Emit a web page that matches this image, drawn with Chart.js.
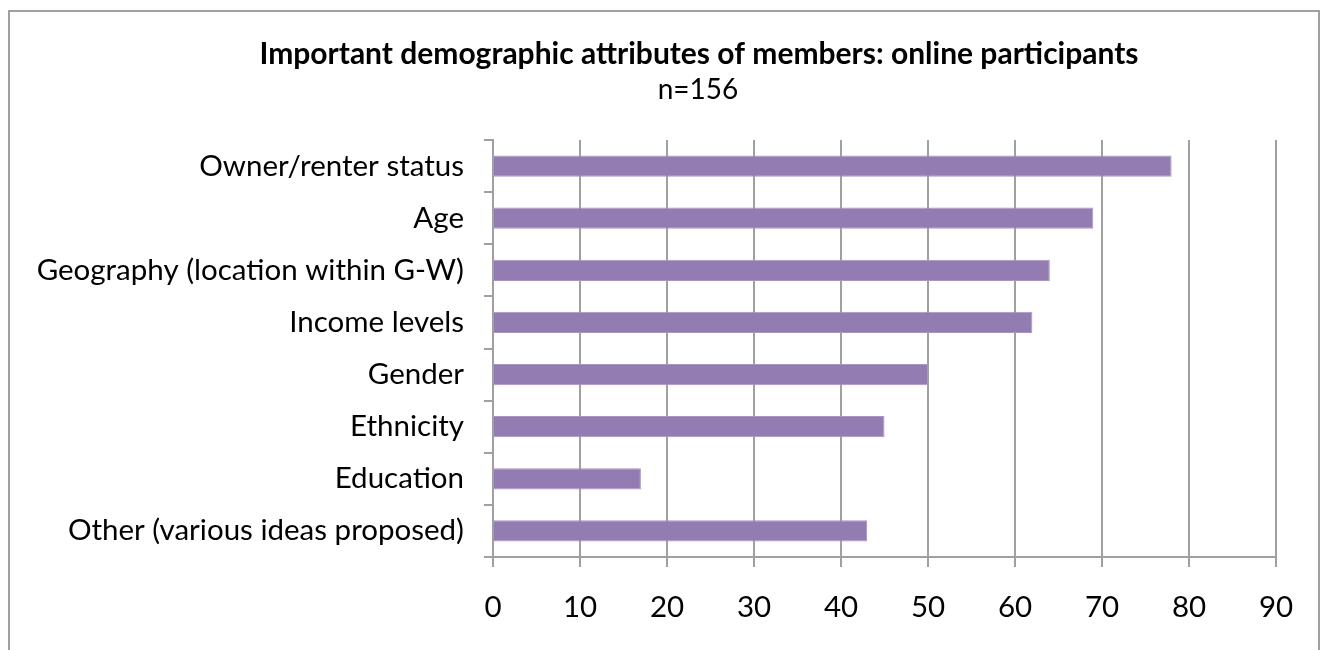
<!DOCTYPE html>
<html>
<head>
<meta charset="utf-8">
<script src="https://cdn.jsdelivr.net/npm/chart.js@4/dist/chart.umd.min.js"></script>
<style>
  body { margin: 0; background: #fff; }
  #wrap { width: 1325px; height: 650px; }
</style>
</head>
<body>
<div id="wrap"><canvas id="dataChart" width="1325" height="650"></canvas></div>
<script>
// Values
const categories = [
    'Owner/renter status',
    'Age',
    'Geography (location within G-W)',
    'Income levels',
    'Gender',
    'Ethnicity',
    'Education',
    'Other (various ideas proposed)'
];
const counts = [78, 69, 64, 62, 50, 45, 17, 43];
const xTicks = [0, 10, 20, 30, 40, 50, 60, 70, 80, 90];

const chartTitle = 'Important demographic attributes of members: online participants';
const chartSubtitle = 'n=156';

const FONT = 'Lato, "Open Sans", sans-serif';
const GRID = '#a0a0a0';

// frame round the chart plus the two title lines
const framePlugin = {
    id: 'frame',
    beforeDraw(chart) {
        const c = chart.ctx;
        c.save();
        c.fillStyle = '#fff';
        c.fillRect(0, 0, chart.width, chart.height);
        c.strokeStyle = '#a0a0a0';
        c.lineWidth = 2;
        c.strokeRect(9, 11, 1310, 700);
        c.restore();
    },
    afterDraw(chart) {
        const c = chart.ctx;
        c.save();
        c.fillStyle = '#000';
        c.textAlign = 'center';
        c.textBaseline = 'middle';
        c.font = 'bold 30px ' + FONT;
        c.fillText(chartTitle, 699, 54);
        c.font = '28px ' + FONT;
        c.fillText(chartSubtitle, 698, 90);
        c.restore();
    }
};

function renderChart() {
    const ctx = document.getElementById('dataChart').getContext('2d');
    new Chart(ctx, {
        type: 'bar',
        data: {
            labels: categories,
            datasets: [{
                label: 'Members',
                data: counts,
                backgroundColor: '#937cb1',
                borderColor: '#a895c2',
                borderWidth: 1,
                barPercentage: 0.41,
                categoryPercentage: 1
            }]
        },
        options: {
            indexAxis: 'y',
            responsive: false,
            animation: false,
            layout: { padding: { left: 10, right: 49, top: 140, bottom: 0 } },
            plugins: {
                legend: { display: false },
                tooltip: { enabled: false }
            },
            scales: {
                x: {
                    min: 0,
                    max: 90,
                    afterFit(scale) { scale.height = 93; },
                    afterBuildTicks(scale) { scale.ticks = xTicks.map(v => ({ value: v })); },
                    grid: { color: GRID, lineWidth: 2, tickLength: 10 },
                    border: { color: GRID, width: 2 },
                    ticks: {
                        color: '#000',
                        padding: 23,
                        font: { family: FONT, size: 29.5 }
                    }
                },
                y: {
                    afterFit(scale) { scale.width = 483; },
                    grid: {
                        offset: true,
                        drawOnChartArea: false,
                        color: GRID,
                        lineWidth: 2,
                        tickLength: 9
                    },
                    border: { color: GRID, width: 2 },
                    ticks: {
                        color: '#000',
                        padding: 20,
                        font: { family: FONT, size: 29.5 }
                    }
                }
            }
        },
        plugins: [framePlugin]
    });
}

renderChart();
</script>
</body>
</html>
